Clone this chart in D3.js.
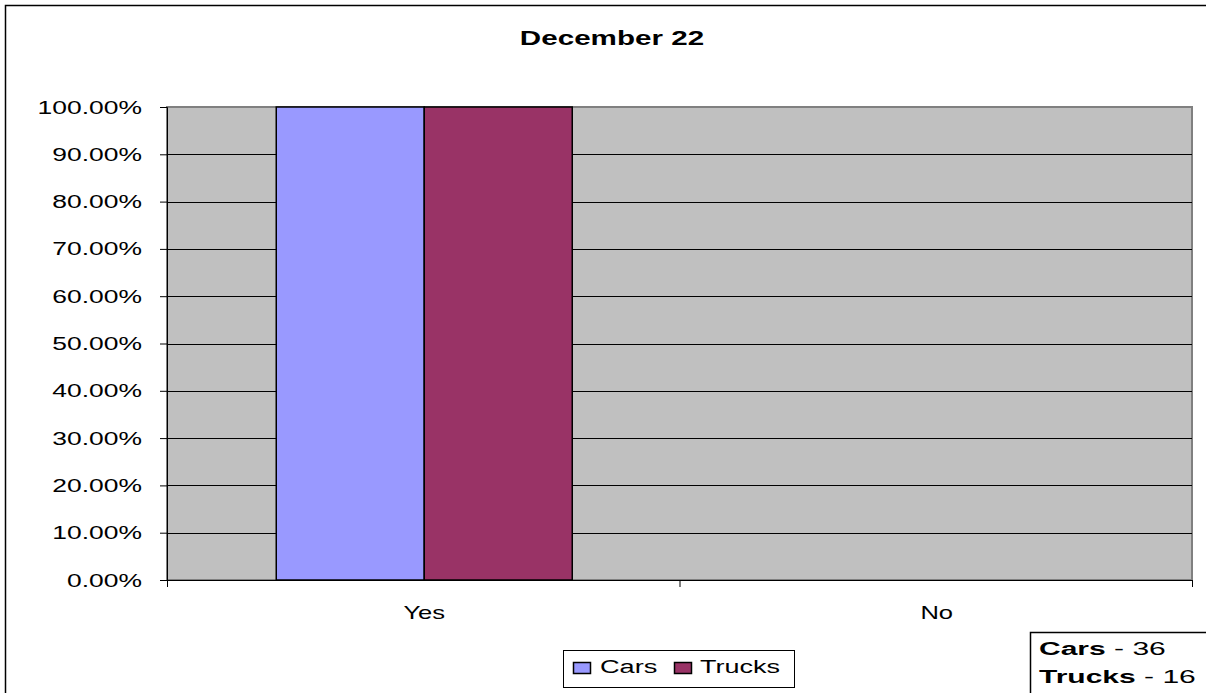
<!DOCTYPE html>
<html><head><meta charset="utf-8">
<script src="https://cdn.jsdelivr.net/npm/d3@7"></script>
<style>body{margin:0;background:#fff}svg{display:block;font-family:"Liberation Sans",Arial,sans-serif}</style>
</head><body>
<svg id="c" width="1206" height="693"></svg>
<script>
const categories = ["Yes", "No"];
const seriesNames = ["Cars", "Trucks"];
const cars = [1.0, 0.0];
const trucks = [1.0, 0.0];
const yTicks = [0,0.1,0.2,0.3,0.4,0.5,0.6,0.7,0.8,0.9,1.0];
const colors = ["#9999FF", "#993366"];
const title = "December 22";
const noteLines = [["Cars", " - 36"], ["Trucks", " - 16"]];

const FONT = "Liberation Sans, Arial, sans-serif";
const svg = d3.select("#c");
// outer chart border
svg.append("rect").attr("x",5.5).attr("y",5.5).attr("width",1210).attr("height",700)
  .attr("fill","#fff").attr("stroke","#000").attr("stroke-width",1.5);

const L=167, R=1192, T=107, B=580;
const x = d3.scaleBand().domain(categories).range([L,R]).paddingInner(0).paddingOuter(0);
const y = d3.scaleLinear().domain([0,1]).range([B,T]);

svg.append("rect").attr("x",L).attr("y",T).attr("width",R-L).attr("height",B-T)
  .attr("fill","#C0C0C0").attr("stroke","#808080").attr("stroke-width",2);

// gridlines
svg.append("g").selectAll("line").data(yTicks.filter(d=>d>0 && d<1)).join("line")
  .attr("x1",L).attr("x2",R).attr("y1",d=>Math.round(y(d))+0.5).attr("y2",d=>Math.round(y(d))+0.5)
  .attr("stroke","#000").attr("stroke-width",1);

const data = categories.map((c,i)=>({cat:c, vals:[cars[i],trucks[i]]}));
const bw = x.bandwidth();
const barW = 148;
const x1 = d3.scaleBand().domain(seriesNames).range([0, barW*2]);
const g = svg.append("g");
data.forEach(d=>{
  const off = x(d.cat) + (bw - barW*2)/2 + 1;
  d.vals.forEach((v,j)=>{
    if(v<=0) return;
    g.append("rect").attr("x",off + x1(seriesNames[j])).attr("y",y(v))
      .attr("width",x1.bandwidth()).attr("height",y(0)-y(v))
      .attr("fill",colors[j]).attr("stroke","#000").attr("stroke-width",1.5);
  });
});

// y axis
const yAxis = d3.axisLeft(y).tickValues(yTicks).tickSize(7).tickPadding(18)
  .tickFormat(d=>(d*100).toFixed(2)+"%");
const ya = svg.append("g").attr("transform",`translate(${L},0)`).call(yAxis);
ya.select(".domain").attr("stroke","#000");
ya.selectAll("line").attr("stroke","#000");
ya.selectAll("text").attr("x",0).attr("dy",null)
  .attr("transform","translate(-25,6) scale(1.47,1)")
  .attr("font-size",18).attr("fill","#000").attr("font-family",FONT);

// x axis
const xa = svg.append("g").attr("transform",`translate(0,${B})`);
xa.append("line").attr("x1",L).attr("x2",R).attr("y1",0.5).attr("y2",0.5).attr("stroke","#000");
const tickPos = categories.map(c=>x(c)).concat([R]);
xa.selectAll("line.t").data(tickPos).join("line").attr("class","t")
  .attr("x1",d=>d+0.5).attr("x2",d=>d+0.5).attr("y1",0).attr("y2",7).attr("stroke","#000");
xa.selectAll("text").data(categories).join("text")
  .attr("transform",d=>`translate(${x(d)+bw/2+1},39) scale(1.42,1)`).attr("text-anchor","middle")
  .attr("font-size",18).text(d=>d);

// title
svg.append("text").attr("transform","translate(612,45) scale(1.41,1)").attr("text-anchor","middle")
  .attr("font-size",21).attr("font-weight","bold").text(title);

// legend
const lg = svg.append("g");
lg.append("rect").attr("x",563.5).attr("y",650.5).attr("width",231).attr("height",37)
  .attr("fill","#fff").attr("stroke","#000");
const items = [{n:seriesNames[0],c:colors[0],x:573,tx:600,k:1.43},{n:seriesNames[1],c:colors[1],x:674,tx:700,k:1.42}];
items.forEach(it=>{
  lg.append("rect").attr("x",it.x+0.5).attr("y",662.5).attr("width",17).attr("height",11)
    .attr("fill",it.c).attr("stroke","#000").attr("stroke-width",1.5);
  lg.append("text").attr("transform",`translate(${it.tx},673) scale(${it.k},1)`).attr("font-size",19).text(it.n);
});

// note box
const nb = svg.append("g");
nb.append("rect").attr("x",1030.5).attr("y",632.5).attr("width",200).attr("height",70)
  .attr("fill","#fff").attr("stroke","#000").attr("stroke-width",1.5);
noteLines.forEach((ln,i)=>{
  const t = nb.append("text").attr("transform",`translate(1039,${655+i*28}) scale(1.58,1)`).attr("font-size",19);
  t.append("tspan").attr("font-weight","bold").text(ln[0]);
  t.append("tspan").text(ln[1]);
});
</script>
</body></html>
